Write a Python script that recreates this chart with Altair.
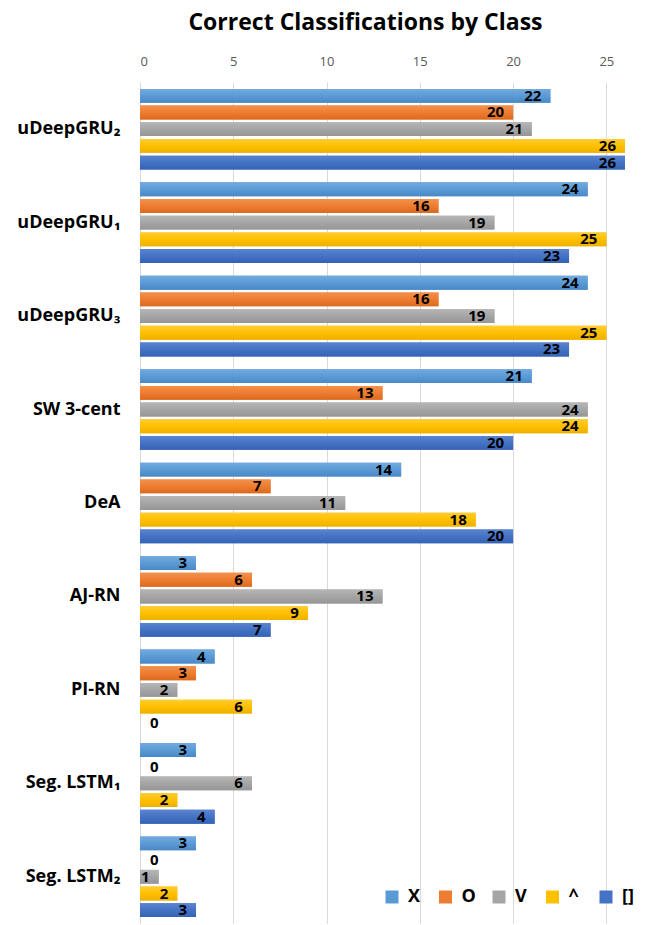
import altair as alt
import pandas as pd

# Methods (top to bottom) and gesture classes
methods = ["uDeepGRU₂", "uDeepGRU₁", "uDeepGRU₃", "SW 3-cent", "DeA",
           "AJ-RN", "PI-RN", "Seg. LSTM₁", "Seg. LSTM₂"]
classes = ["X", "O", "V", "^", "[]"]

# Correct classifications per method, one list per class
x_vals = [22, 24, 24, 21, 14, 3, 4, 3, 3]
o_vals = [20, 16, 16, 13, 7, 6, 3, 0, 0]
v_vals = [21, 19, 19, 24, 11, 13, 2, 6, 1]
caret_vals = [26, 25, 25, 24, 18, 9, 6, 2, 2]
box_vals = [26, 23, 23, 20, 20, 7, 0, 4, 3]

base_colors = ["#5B9BD5", "#ED7D31", "#A5A5A5", "#FFC000", "#4472C4"]
top_colors = ["#73AADF", "#F3914D", "#B6B6B6", "#FFCC33", "#5A84CF"]
bottom_colors = ["#4A88C6", "#DC6A1E", "#969696", "#EDB000", "#3462B5"]

series = {"X": x_vals, "O": o_vals, "V": v_vals, "^": caret_vals, "[]": box_vals}
rows = []
for cls, vals in series.items():
    for m, v in zip(methods, vals):
        rows.append({"method": m, "cls": cls, "value": v})
df = pd.DataFrame(rows)

FONT = "Open Sans"
W, H = 485, 842

y_enc = alt.Y("method:N", sort=methods,
              scale=alt.Scale(domain=methods, paddingInner=0.13, paddingOuter=0.07),
              axis=alt.Axis(title=None, ticks=False, labelFontSize=18, labelFontWeight="bold",
                            labelColor="#000000", labelFont=FONT, labelPadding=20,
                            domainColor="#D9D9D9", minExtent=135, maxExtent=135))
x_enc = alt.X("value:Q", scale=alt.Scale(domain=[0, 26], nice=False),
              axis=alt.Axis(title=None, orient="top", values=[0, 5, 10, 15, 20, 25],
                            ticks=False, domain=False, grid=True, gridColor="#D9D9D9",
                            labelFontSize=13, labelColor="#595959", labelFont=FONT,
                            labelPadding=14, minExtent=30, maxExtent=30))
yoff_enc = alt.YOffset("cls:N", sort=classes,
                       scale=alt.Scale(domain=classes, paddingInner=0.17, paddingOuter=0.02))

base = alt.Chart(df)

bars = base.mark_bar().encode(
    y=y_enc, x=x_enc, yOffset=yoff_enc,
    color=alt.Color("cls:N", sort=classes,
                    scale=alt.Scale(domain=classes, range=base_colors),
                    legend=alt.Legend(title=None, orient="none", direction="horizontal",
                                      legendX=243, legendY=806, symbolType="square",
                                      symbolSize=169, symbolStrokeWidth=0, symbolOpacity=1,
                                      labelFontSize=18, labelFontWeight="bold",
                                      labelColor="#000000", labelFont=FONT, labelOffset=7,
                                      columnPadding=13.5, gridAlign="all", padding=0)),
)

# Glossy shading: each class redrawn with a vertical gradient
shaded = []
for cls, c_top, c_mid, c_bot in zip(classes, top_colors, base_colors, bottom_colors):
    grad = alt.Gradient(gradient="linear", x1=0, x2=0, y1=0, y2=1,
                        stops=[alt.GradientStop(color=c_top, offset=0),
                               alt.GradientStop(color=c_mid, offset=0.5),
                               alt.GradientStop(color=c_bot, offset=1)])
    shaded.append(
        base.transform_filter(alt.datum.cls == cls)
        .mark_bar(color=grad)
        .encode(y=y_enc, x=x_enc, yOffset=yoff_enc)
    )

labels = base.transform_filter(alt.datum.value > 0).mark_text(
    align="right", baseline="middle", dx=-9, fontSize=15, fontWeight="bold",
    font=FONT, color="#000000"
).encode(y=y_enc, x=x_enc, yOffset=yoff_enc, text="value:Q")

zero_labels = base.transform_filter(alt.datum.value == 0).mark_text(
    align="left", baseline="middle", dx=10, fontSize=15, fontWeight="bold",
    font=FONT, color="#000000"
).encode(y=y_enc, x=x_enc, yOffset=yoff_enc, text="value:Q")

chart = alt.layer(bars, *shaded, labels, zero_labels).properties(
    width=W, height=H,
    title=alt.TitleParams("Correct Classifications by Class", fontSize=23, fontWeight="bold",
                          font=FONT, color="#000000", anchor="middle", frame="group",
                          dx=-17, offset=17),
    padding={"left": 5, "top": 12, "right": 5, "bottom": 0},
).configure_view(stroke=None)

chart.save("out.html", embed_options={"renderer": "svg", "actions": False})
